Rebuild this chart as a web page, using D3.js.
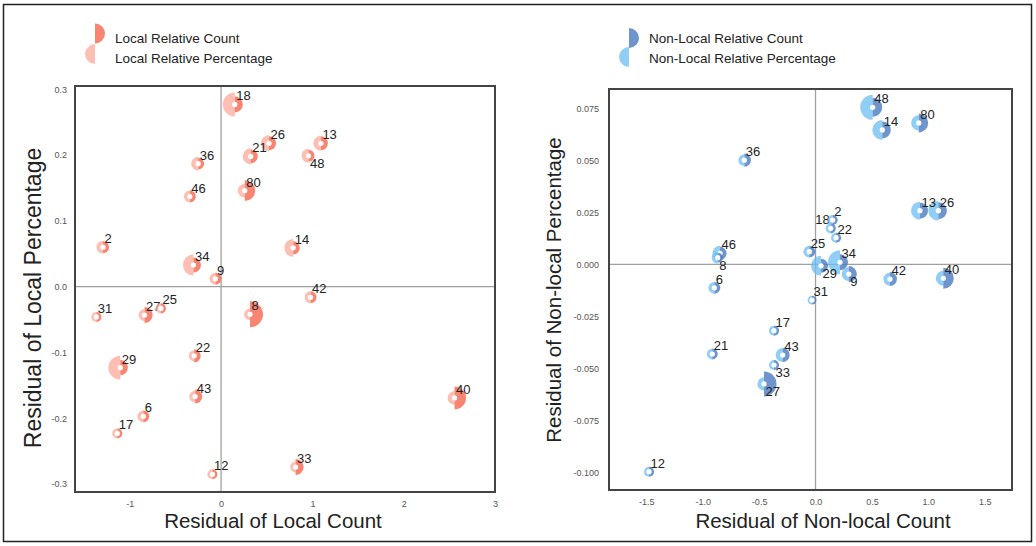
<!DOCTYPE html>
<html>
<head>
<meta charset="utf-8">
<script src="https://cdn.jsdelivr.net/npm/d3@7"></script>
<style>
  body { margin: 0; background: #fff; }
  svg { display: block; font-family: "Liberation Sans", Arial, sans-serif; }
</style>
</head>
<body>
<div id="chart-area"></div>
<script>
// point ids (same set on both panels)
var pointIds = [18, 26, 13, 21, 48, 36, 46, 80, 2, 14, 34, 9, 42, 31, 27, 25, 8, 22, 29, 43, 6, 17, 12, 33, 40];

// local panel
var localX = [0.15, 0.525, 1.093, 0.325, 0.958, -0.251, -0.342, 0.259, -1.293, 0.79, -0.303, -0.062, 0.98,
    -1.366, -0.838, -0.659, 0.317, -0.295, -1.104, -0.284, -0.852, -1.137, -0.095, 0.816, 2.557];
var localY = [0.277, 0.218, 0.218, 0.198, 0.199, 0.187, 0.137, 0.146, 0.060, 0.059, 0.033, 0.012, -0.016,
    -0.046, -0.043, -0.033, -0.042, -0.105, -0.123, -0.167, -0.197, -0.223, -0.285, -0.274, -0.169];
var localCount = [0.33, 0.25, 0.25, 0.25, 0.18, 0.18, 0.18, 0.56, 0.18, 0.22, 0.29, 0.18, 0.18,
    0.13, 0.33, 0.13, 0.86, 0.22, 0.29, 0.25, 0.18, 0.13, 0.13, 0.33, 0.67];
var localPct = [0.73, 0.33, 0.29, 0.33, 0.25, 0.25, 0.18, 0.25, 0.22, 0.41, 0.56, 0.18, 0.18,
    0.13, 0.18, 0.13, 0.18, 0.15, 0.73, 0.18, 0.18, 0.13, 0.13, 0.15, 0.25];

// non-local panel
var nonLocalX = [0.135, 1.089, 0.926, -0.915, 0.507, -0.631, -0.847, 0.915, 0.152, 0.592, 0.217, 0.295, 0.66,
    -0.031, -0.457, -0.055, -0.867, 0.182, 0.049, -0.291, -0.897, -0.368, -1.476, -0.368, 1.133];
var nonLocalY = [0.0173, 0.0258, 0.0258, -0.0431, 0.0755, 0.0501, 0.0053, 0.068, 0.0213, 0.0646, 0.001, -0.0047, -0.0071,
    -0.0172, -0.0575, 0.0061, 0.0032, 0.0128, -0.0007, -0.0436, -0.0113, -0.0319, -0.0997, -0.0484, -0.0067];
var nonLocalCount = [0.13, 0.37, 0.33, 0.15, 0.46, 0.22, 0.22, 0.46, 0.13, 0.37, 0.33, 0.33, 0.25,
    0.10, 0.80, 0.18, 0.13, 0.13, 0.25, 0.25, 0.18, 0.13, 0.13, 0.13, 0.56];
var nonLocalPct = [0.13, 0.51, 0.41, 0.15, 0.80, 0.18, 0.29, 0.29, 0.13, 0.51, 0.73, 0.25, 0.22,
    0.10, 0.22, 0.18, 0.18, 0.13, 0.51, 0.25, 0.18, 0.13, 0.13, 0.13, 0.29];

// ticks
var localXTicks = [-1, 0, 1, 2, 3];
var localYTicks = [-0.3, -0.2, -0.1, 0.0, 0.1, 0.2, 0.3];
var nonLocalXTicks = [-1.5, -1.0, -0.5, 0.0, 0.5, 1.0, 1.5];
var nonLocalYTicks = [-0.100, -0.075, -0.050, -0.025, 0.000, 0.025, 0.050, 0.075];

// label placement exceptions
var localLabelsBelow = [48];
var nonLocalLabelsBelow = [8, 29, 9, 27, 33];
var nonLocalLabelsLeft = [18];

var W = 1036, H = 546;

var svg = d3.select("#chart-area")
    .append("svg")
        .attr("width", W)
        .attr("height", H);

// outer border
svg.append("rect")
    .attr("x", 3.5).attr("y", 4.5)
    .attr("width", 1028).attr("height", 537)
    .attr("fill", "none")
    .attr("stroke", "#222")
    .attr("stroke-width", 1.5);

var rScale = d3.scaleSqrt().domain([0, 1]).range([0, 14]);

function fmtMinus(f) {
    return function(d) { return f(d).replace("\u2212", "-"); };
}

var panels = [
    {
        box: { x0: 75, y0: 86, x1: 495, y1: 492 },
        xDomain: [-1.6, 3], yDomain: [-0.312, 0.305],
        xs: localX, ys: localY, cnt: localCount, pct: localPct,
        xTicks: localXTicks, yTicks: localYTicks,
        xFmt: fmtMinus(d3.format("d")), yFmt: fmtMinus(d3.format(".1f")),
        cntColor: "#F6664F", pctColor: "#FCAA9A",
        below: localLabelsBelow, left: [],
        xTitle: "Residual of Local Count", xTitlePos: [273, 528], xTitleSize: "20.5px",
        yTitle: "Residual of Local Percentage", yTitlePos: [41, 298], yTitleSize: "23px",
        yPad: 8,
        legend: { x: 95, cy1: 33.5, cy2: 54, tx: 115, ty1: 42.5, ty2: 63,
                  t1: "Local Relative Count", t2: "Local Relative Percentage" }
    },
    {
        box: { x0: 609, y0: 89, x1: 1012, y1: 490 },
        xDomain: [-1.831, 1.742], yDomain: [-0.1085, 0.0843],
        xs: nonLocalX, ys: nonLocalY, cnt: nonLocalCount, pct: nonLocalPct,
        xTicks: nonLocalXTicks, yTicks: nonLocalYTicks,
        xFmt: fmtMinus(d3.format(".1f")), yFmt: fmtMinus(d3.format(".3f")),
        cntColor: "#4A7BBF", pctColor: "#6CBDF3",
        below: nonLocalLabelsBelow, left: nonLocalLabelsLeft,
        xTitle: "Residual of Non-local Count", xTitlePos: [823, 528], xTitleSize: "20.5px",
        yTitle: "Residual of Non-local Percentage", yTitlePos: [561, 290], yTitleSize: "20.5px",
        yPad: 10,
        legend: { x: 629, cy1: 38, cy2: 57, tx: 649, ty1: 42.5, ty2: 63,
                  t1: "Non-Local Relative Count", t2: "Non-Local Relative Percentage" }
    }
];

var rightHalf = d3.arc().innerRadius(0).startAngle(0).endAngle(Math.PI);
var leftHalf = d3.arc().innerRadius(0).startAngle(Math.PI).endAngle(2 * Math.PI);

panels.forEach(function(p) {
    var b = p.box;
    var x = d3.scaleLinear().domain(p.xDomain).range([b.x0, b.x1]);
    var y = d3.scaleLinear().domain(p.yDomain).range([b.y1, b.y0]);
    var g = svg.append("g");

    // zero lines
    g.append("line")
        .attr("x1", x(0)).attr("x2", x(0))
        .attr("y1", b.y0).attr("y2", b.y1)
        .attr("stroke", "#a0a0a0").attr("stroke-width", 1.3);
    g.append("line")
        .attr("x1", b.x0).attr("x2", b.x1)
        .attr("y1", y(0)).attr("y2", y(0))
        .attr("stroke", "#a0a0a0").attr("stroke-width", 1.3);

    // axes (labels only)
    var xAxisCall = d3.axisBottom(x).tickValues(p.xTicks).tickFormat(p.xFmt)
        .tickSize(0).tickPadding(9);
    var xg = g.append("g")
        .attr("transform", "translate(0," + b.y1 + ")")
        .call(xAxisCall);
    var yAxisCall = d3.axisLeft(y).tickValues(p.yTicks).tickFormat(p.yFmt)
        .tickSize(0).tickPadding(p.yPad);
    var yg = g.append("g")
        .attr("transform", "translate(" + b.x0 + ",0)")
        .call(yAxisCall);
    [xg, yg].forEach(function(a) {
        a.select(".domain").remove();
        a.selectAll("text")
            .attr("font-size", "9px")
            .attr("fill", "#555")
            .attr("font-family", "Liberation Sans, Arial, sans-serif");
    });

    // frame
    g.append("rect")
        .attr("x", b.x0).attr("y", b.y0)
        .attr("width", b.x1 - b.x0).attr("height", b.y1 - b.y0)
        .attr("fill", "none")
        .attr("stroke", "#444")
        .attr("stroke-width", 2);

    var data = pointIds.map(function(id, i) {
        return { id: id, x: p.xs[i], y: p.ys[i], cnt: p.cnt[i], pct: p.pct[i] };
    });

    var pts = g.selectAll("g.pt")
        .data(data)
        .enter()
        .append("g")
            .attr("class", "pt")
            .attr("transform", function(d) { return "translate(" + x(d.x) + "," + y(d.y) + ")"; });

    pts.append("path")
        .attr("d", function(d) { return leftHalf.outerRadius(rScale(d.pct))(); })
        .attr("fill", p.pctColor)
        .attr("fill-opacity", 0.75);
    pts.append("path")
        .attr("d", function(d) { return rightHalf.outerRadius(rScale(d.cnt))(); })
        .attr("fill", p.cntColor)
        .attr("fill-opacity", 0.8);
    pts.append("circle")
        .attr("r", 2.6)
        .attr("fill", "#fff");

    pts.append("text")
        .attr("x", function(d) {
            if (p.left.indexOf(d.id) >= 0) return -1;
            return 1.5;
        })
        .attr("y", function(d) {
            if (p.below.indexOf(d.id) >= 0) return 12;
            return -4;
        })
        .attr("text-anchor", function(d) { return p.left.indexOf(d.id) >= 0 ? "end" : "start"; })
        .attr("font-size", "13px")
        .attr("fill", "#222")
        .text(function(d) { return d.id; });

    // titles
    g.append("text")
        .attr("x", p.xTitlePos[0]).attr("y", p.xTitlePos[1])
        .attr("text-anchor", "middle")
        .attr("font-size", p.xTitleSize)
        .attr("fill", "#222")
        .text(p.xTitle);
    g.append("text")
        .attr("transform", "translate(" + p.yTitlePos[0] + "," + p.yTitlePos[1] + ") rotate(-90)")
        .attr("text-anchor", "middle")
        .attr("font-size", p.yTitleSize)
        .attr("fill", "#222")
        .text(p.yTitle);

    // legend
    var L = p.legend;
    g.append("path")
        .attr("transform", "translate(" + L.x + "," + L.cy1 + ")")
        .attr("d", rightHalf.outerRadius(10)())
        .attr("fill", p.cntColor).attr("fill-opacity", 0.8);
    g.append("path")
        .attr("transform", "translate(" + L.x + "," + L.cy2 + ")")
        .attr("d", leftHalf.outerRadius(10)())
        .attr("fill", p.pctColor).attr("fill-opacity", 0.75);
    g.append("text")
        .attr("x", L.tx).attr("y", L.ty1)
        .attr("font-size", "13.5px").attr("fill", "#222")
        .text(L.t1);
    g.append("text")
        .attr("x", L.tx).attr("y", L.ty2)
        .attr("font-size", "13.5px").attr("fill", "#222")
        .text(L.t2);
});
</script>
</body>
</html>
